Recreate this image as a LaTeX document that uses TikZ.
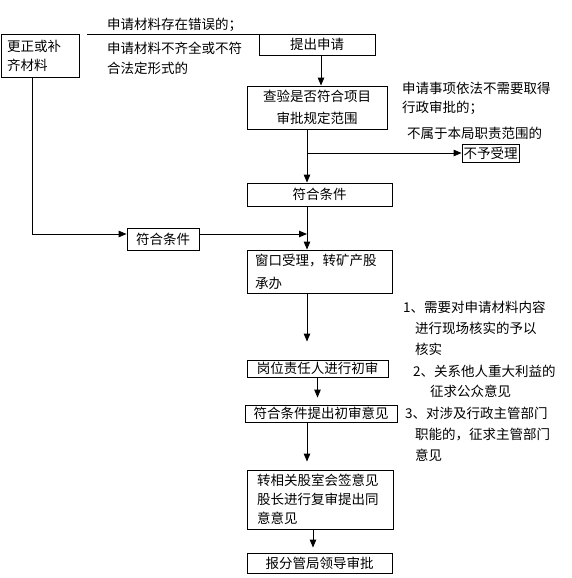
\documentclass[tikz,border=0pt]{standalone}
\usepackage{fontspec}
\newfontfamily\cjk{Noto Sans CJK SC}
\usetikzlibrary{arrows.meta, positioning, calc}

\begin{document}
\begin{tikzpicture}[x=1pt, y=-1pt,
  every node/.style={font=\cjk\fontsize{13.5}{19}\selectfont},
  box/.style={draw, line width=0.9pt, inner sep=0pt, align=center},
  lbox/.style={box, align=left, inner xsep=8pt},
  note/.style={anchor=west, align=left, inner sep=0pt},
  arr/.style={line width=0.9pt, -{Triangle[length=8pt, width=6.5pt]}},
  line/.style={line width=0.9pt}]
  \useasboundingbox (0,0) rectangle (572,578);
  \coordinate (spine) at (307,0);

  % Main column
  \node[box, minimum width=116pt, minimum height=21pt] (tichu) at (317,44.5) {提出申请};
  \node[box, minimum width=140pt, minimum height=43pt, font=\cjk\fontsize{13.5}{22}\selectfont] (chayan) at (317,107.5) {查验是否符合项目\\审批规定范围};
  \node[box, minimum width=57pt, minimum height=18pt] (buyu) at (490.5,153) {不予受理};
  \node[box, minimum width=145pt, minimum height=23pt] (fuhe1) at (319.5,194.5) {符合条件};
  \node[box, minimum width=72pt, minimum height=22pt] (fuhe2) at (163,239) {符合条件};
  \node[lbox, text width=129pt, minimum height=43pt, font=\cjk\fontsize{13.5}{23}\selectfont] (chuangkou) at (319.5,271.5) {窗口受理，转矿产股\\承办};
  \node[box, minimum width=141pt, minimum height=17pt] (gangwei) at (317.5,368.5) {岗位责任人进行初审};
  \node[box, minimum width=152pt, minimum height=17pt] (chushen) at (321,413.5) {符合条件提出初审意见};
  \node[lbox, inner xsep=10pt, text width=126pt, minimum height=59pt] (zhuan) at (320,499.5) {转相关股室会签意见\\股长进行复审提出同\\意意见};
  \node[box, minimum width=145pt, minimum height=20pt] (bao) at (319.5,563) {报分管局领导审批};

  % Correction box on the left
  \node[lbox, inner xsep=6pt, text width=66pt, minimum height=43pt] (gengzheng) at (40,55.5) {更正或补\\齐材料};
  \draw[line] ([xshift=8pt, yshift=-1pt]gengzheng.north east) -- ([yshift=-1pt]tichu.north west);
  \node[note] (cuowu) at (107,25) {申请材料存在错误的；};
  \node[note, font=\cjk\fontsize{13.5}{20}\selectfont] (buqi) at (107,58) {申请材料不齐全或不符\\合法定形式的};

  % Flow arrows
  \draw[arr] ([xshift=4pt]tichu.south) -- ([xshift=4pt]tichu.south |- chayan.north);
  \draw[arr] (chayan.south -| spine) -- (fuhe1.north -| spine);
  \draw[arr] (spine |- buyu.west) -- (buyu.west);
  \draw[arr] (fuhe1.south -| spine) -- (chuangkou.north -| spine);
  \draw[arr] ([xshift=-8pt]gengzheng.south) |- ([yshift=5pt]fuhe2.west);
  \draw[arr] ([yshift=5pt]fuhe2.east) -- ([yshift=5pt]fuhe2.east -| spine);
  \draw[arr, shorten >=18pt] (chuangkou.south -| spine) -- (gangwei.north -| spine);
  \draw[arr, shorten >=7pt] (gangwei.south) -- (gangwei.south |- chushen.north);
  \draw[arr, shorten >=8pt] (chushen.south -| spine) -- (zhuan.north -| spine);
  \draw[arr, shorten >=5pt] ([xshift=-7pt]zhuan.south) -- ([xshift=-7pt]zhuan.south |- bao.north);

  % Right side notes
  \node[note] (bushou1) at (402,98.5) {申请事项依法不需要取得\\行政审批的；};
  \node[note] (bushou2) at (407,133) {不属于本局职责范围的};
  \node[note, font=\cjk\fontsize{13.5}{21}\selectfont] (tiao1) at (403,328) {1、需要对申请材料内容\\\hspace*{12pt}进行现场核实的予以\\\hspace*{12pt}核实};
  \node[note, font=\cjk\fontsize{13.5}{20}\selectfont] (tiao2) at (413,381) {2、关系他人重大利益的\\\hspace*{17pt}征求公众意见};
  \node[note, font=\cjk\fontsize{13.5}{21}\selectfont] (tiao3) at (405,434) {3、对涉及行政主管部门\\\hspace*{10pt}职能的，征求主管部门\\\hspace*{10pt}意见};
\end{tikzpicture}
\end{document}
